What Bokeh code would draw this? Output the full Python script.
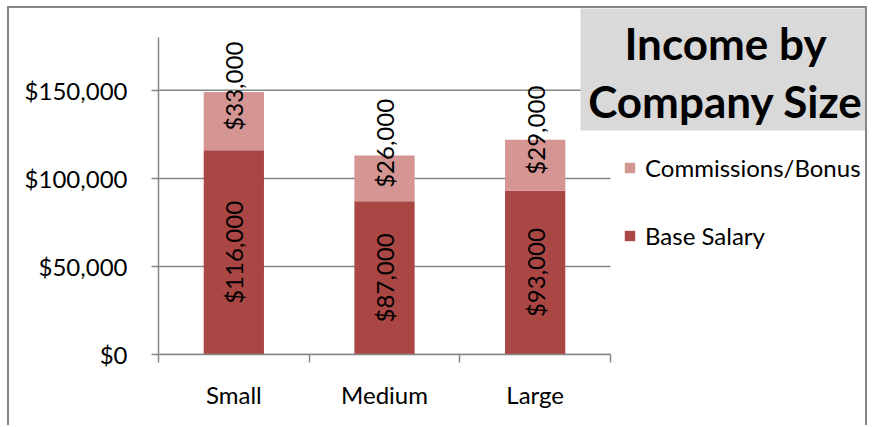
import math
from bokeh.plotting import figure
from bokeh.models import (ColumnDataSource, FixedTicker, NumeralTickFormatter, Legend, LegendItem,
                          BoxAnnotation, Label)
from bokeh.core.properties import value
from bokeh.embed import file_html
from bokeh.resources import INLINE

categories = ["Small", "Medium", "Large"]
base_salary = [116000, 87000, 93000]
commissions = [33000, 26000, 29000]
y_ticks = [0, 50000, 100000, 150000]
y_max = 180000
title_lines = ["Income by", "Company Size"]

BASE_COLOR = "#AA4643"
COMM_COLOR = "#D49593"
GRAY = "#868686"
FONT = "Lato"
FS = "24px"

# layout constants (pixels)
CANVAS_W, CANVAS_H = 860, 419
LEFT, BOTTOM = 149, 73
PLOT_W, PLOT_H = 452, 317          # category/value area inside the frame
FRAME_W = CANVAS_W - LEFT
FRAME_H = CANVAS_H - BOTTOM

n = len(categories)
centers = [i + 0.5 for i in range(n)]
tops = [b + c for b, c in zip(base_salary, commissions)]

src = ColumnDataSource(dict(
    x=centers, base=base_salary, comm=commissions, top=tops,
    zero=[0] * n,
    base_mid=[b / 2 for b in base_salary],
    comm_mid=[b + c / 2 for b, c in zip(base_salary, commissions)],
    base_lbl=["${:,}".format(v) for v in base_salary],
    comm_lbl=["${:,}".format(v) for v in commissions],
))

p = figure(width=CANVAS_W, height=CANVAS_H,
           x_range=(0, n * FRAME_W / PLOT_W), y_range=(0, y_max * FRAME_H / PLOT_H),
           output_backend="svg", toolbar_location=None,
           min_border_left=LEFT, min_border_right=0, min_border_top=0, min_border_bottom=BOTTOM)
p.outline_line_color = None
p.background_fill_color = "white"
p.border_fill_color = "white"
p.styles = {"margin-left": "7px", "margin-top": "6px",
            "border-left": "2px solid #868686", "border-top": "2px solid #868686",
            "border-right": "2px solid #868686"}

# gridlines limited to the category area
p.xgrid.visible = False
p.ygrid.visible = False
p.segment(x0=[0] * len(y_ticks), x1=[n] * len(y_ticks), y0=y_ticks, y1=y_ticks,
          line_color=GRAY, line_width=1.5)

r_base = p.vbar(x="x", bottom="zero", top="base", width=0.4, source=src,
                fill_color=BASE_COLOR, line_color=None)
r_comm = p.vbar(x="x", bottom="base", top="top", width=0.4, source=src,
                fill_color=COMM_COLOR, line_color=None)

p.text(x="x", y="base_mid", text="base_lbl", source=src, angle=math.pi / 2,
       text_align="center", text_baseline="middle", text_font=value(FONT),
       text_font_size=FS, text_color="black")
p.text(x="x", y="comm_mid", text="comm_lbl", source=src, angle=math.pi / 2,
       text_align="center", text_baseline="middle", text_font=value(FONT),
       text_font_size=FS, text_color="black", y_offset=-35)

yax = p.yaxis[0]
yax.bounds = (0, y_max)
yax.ticker = FixedTicker(ticks=y_ticks)
yax.formatter = NumeralTickFormatter(format="$0,0")
yax.axis_line_color = GRAY
yax.axis_line_width = 1.5
yax.major_tick_line_color = GRAY
yax.major_tick_line_width = 1.5
yax.major_tick_out = 7
yax.major_tick_in = 0
yax.minor_tick_line_color = None
yax.major_label_text_font = FONT
yax.major_label_text_font_size = FS
yax.major_label_text_color = "black"
yax.major_label_standoff = 24

xax = p.xaxis[0]
xax.bounds = (0, n)
xax.ticker = FixedTicker(ticks=centers, minor_ticks=list(range(n + 1)))
xax.major_label_overrides = {c: lab for c, lab in zip(centers, categories)}
xax.axis_line_color = GRAY
xax.axis_line_width = 1.5
xax.major_tick_line_color = None
xax.major_tick_out = 0
xax.major_tick_in = 0
xax.minor_tick_line_color = GRAY
xax.minor_tick_line_width = 1.5
xax.minor_tick_out = 8
xax.minor_tick_in = 0
xax.major_label_text_font = FONT
xax.major_label_text_font_size = FS
xax.major_label_text_color = "black"
xax.major_label_standoff = 17

# title box
p.add_layout(BoxAnnotation(left=422, right=711, top=FRAME_H + 1, bottom=224,
                           left_units="screen", right_units="screen",
                           top_units="screen", bottom_units="screen",
                           fill_color="#D9D9D9", fill_alpha=1, line_color=None))
for txt, yy in zip(title_lines, [312, 254]):
    p.add_layout(Label(x=567, y=yy, x_units="screen", y_units="screen", text=txt,
                       text_align="center", text_baseline="middle",
                       text_font=FONT, text_font_style="bold", text_font_size="44px",
                       text_color="black"))

legend = Legend(items=[LegendItem(label="Commissions/Bonus", renderers=[r_comm]),
                       LegendItem(label="Base Salary", renderers=[r_base])],
                location=(465, 104), orientation="vertical",
                glyph_width=13, glyph_height=13, label_standoff=9,
                spacing=39, padding=0, margin=0,
                border_line_color=None, background_fill_alpha=0,
                label_text_font=FONT, label_text_font_size=FS, label_text_color="black")
p.add_layout(legend, "center")

open("out.html", "w").write(file_html(p, INLINE))
